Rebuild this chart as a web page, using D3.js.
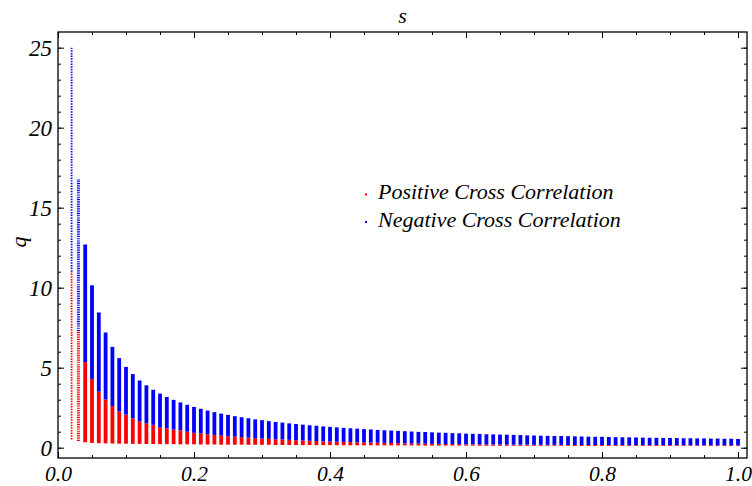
<!DOCTYPE html>
<html>
<head>
<meta charset="utf-8">
<script src="https://cdn.jsdelivr.net/npm/d3@7"></script>
<style>
  body { margin: 0; background: #fff; }
  text { font-family: "Liberation Serif", "DejaVu Serif", serif; font-style: italic; }
</style>
</head>
<body>
<div id="chart"></div>
<script>
// s values (one column of points per value)
const sVals = [
  0.02, 0.03, 0.04, 0.05, 0.06, 0.07, 0.08, 0.09, 0.10,
  0.11, 0.12, 0.13, 0.14, 0.15, 0.16, 0.17, 0.18, 0.19, 0.20,
  0.21, 0.22, 0.23, 0.24, 0.25, 0.26, 0.27, 0.28, 0.29, 0.30,
  0.31, 0.32, 0.33, 0.34, 0.35, 0.36, 0.37, 0.38, 0.39, 0.40,
  0.41, 0.42, 0.43, 0.44, 0.45, 0.46, 0.47, 0.48, 0.49, 0.50,
  0.51, 0.52, 0.53, 0.54, 0.55, 0.56, 0.57, 0.58, 0.59, 0.60,
  0.61, 0.62, 0.63, 0.64, 0.65, 0.66, 0.67, 0.68, 0.69, 0.70,
  0.71, 0.72, 0.73, 0.74, 0.75, 0.76, 0.77, 0.78, 0.79, 0.80,
  0.81, 0.82, 0.83, 0.84, 0.85, 0.86, 0.87, 0.88, 0.89, 0.90,
  0.91, 0.92, 0.93, 0.94, 0.95, 0.96, 0.97, 0.98, 0.99, 1.00
];

// lowest q of each column
const qMin = [
  0.52, 0.42, 0.34, 0.30, 0.28, 0.27, 0.26, 0.25, 0.25,
  0.24, 0.24, 0.23, 0.23, 0.22, 0.22, 0.22, 0.21, 0.21, 0.21,
  0.20, 0.20, 0.20, 0.19, 0.19, 0.19, 0.19, 0.18, 0.18, 0.18,
  0.18, 0.17, 0.17, 0.17, 0.17, 0.16, 0.16, 0.16, 0.16, 0.16,
  0.15, 0.15, 0.15, 0.15, 0.15, 0.15, 0.14, 0.14, 0.14, 0.14,
  0.14, 0.14, 0.14, 0.13, 0.13, 0.13, 0.13, 0.13, 0.13, 0.13,
  0.13, 0.12, 0.12, 0.12, 0.12, 0.12, 0.12, 0.12, 0.12, 0.12,
  0.12, 0.12, 0.12, 0.12, 0.12, 0.11, 0.11, 0.11, 0.11, 0.11,
  0.11, 0.11, 0.11, 0.11, 0.11, 0.11, 0.11, 0.11, 0.11, 0.11,
  0.11, 0.11, 0.11, 0.11, 0.11, 0.10, 0.10, 0.10, 0.10, 0.10
];

// top of the positive cross correlation part (red)
const qSplit = [
  11.0, 7.3, 5.35, 4.3, 3.5, 3.02, 2.6, 2.27, 2.07,
  1.83, 1.64, 1.52, 1.43, 1.27, 1.21, 1.13, 1.08, 1.0, 0.93,
  0.90, 0.84, 0.80, 0.76, 0.72, 0.69, 0.66, 0.63, 0.60, 0.57,
  0.55, 0.53, 0.51, 0.49, 0.47, 0.45, 0.43, 0.42, 0.40, 0.38,
  0.37, 0.36, 0.35, 0.34, 0.33, 0.32, 0.31, 0.30, 0.29, 0.28,
  0.27, 0.26, 0.26, 0.25, 0.24, 0.24, 0.23, 0.22, 0.22, 0.21,
  0.21, 0.21, 0.20, 0.20, 0.20, 0.19, 0.19, 0.19, 0.19, 0.18,
  0.18, 0.18, 0.18, 0.18, 0.17, 0.17, 0.17, 0.17, 0.17, 0.17,
  0.16, 0.16, 0.16, 0.16, 0.16, 0.16, 0.16, 0.16, 0.16, 0.16,
  0.16, 0.16, 0.15, 0.15, 0.15, 0.15, 0.15, 0.15, 0.15, 0.15
];

// top of the negative cross correlation part (blue)
const qMax = [
  25.0, 16.8, 12.7, 10.15, 8.45, 7.2, 6.3, 5.6, 5.05,
  4.6, 4.2, 3.9, 3.62, 3.38, 3.17, 2.99, 2.83, 2.68, 2.55,
  2.43, 2.32, 2.22, 2.13, 2.05, 1.97, 1.9, 1.84, 1.77, 1.72,
  1.66, 1.61, 1.57, 1.52, 1.48, 1.44, 1.4, 1.37, 1.33, 1.3,
  1.27, 1.24, 1.21, 1.19, 1.16, 1.14, 1.11, 1.09, 1.07, 1.05,
  1.03, 1.01, 0.99, 0.98, 0.96, 0.94, 0.93, 0.91, 0.9, 0.88,
  0.87, 0.86, 0.84, 0.83, 0.82, 0.81, 0.8, 0.79, 0.77, 0.76,
  0.75, 0.74, 0.73, 0.73, 0.72, 0.71, 0.7, 0.69, 0.68, 0.68,
  0.67, 0.66, 0.65, 0.65, 0.64, 0.63, 0.62, 0.62, 0.61, 0.61,
  0.6, 0.59, 0.59, 0.58, 0.58, 0.57, 0.57, 0.56, 0.56, 0.55
];

const xTicks = [0, 0.2, 0.4, 0.6, 0.8, 1.0];
const xTickLabels = ["0.0", "0.2", "0.4", "0.6", "0.8", "1.0"];
const yTicks = [0, 5, 10, 15, 20, 25];
const seriesNames = ["Positive Cross Correlation", "Negative Cross Correlation"];
const seriesColors = ["#ff0000", "#0000ff"];

const width = 752, height = 486;
const plotLeft = 58, plotRight = 747, plotTop = 32, plotBottom = 458;

const svg = d3.select("#chart").append("svg")
    .attr("width", width)
    .attr("height", height);

const x = d3.scaleLinear().domain([0, 1.0132]).range([plotLeft, plotRight]);
const y = d3.scaleLinear().domain([-0.644, 25.98]).range([plotBottom, plotTop]);

// columns of points
const nDots = 148;
const cols = svg.append("g");
sVals.forEach((s, i) => {
  const spacing = (y(qMin[i]) - y(qMax[i])) / nDots;
  const w = i === 0 ? 1.8 : (i === 1 ? 3 : 3.8);
  const dash = spacing > 1.5 ? `${(spacing * 0.55).toFixed(2)} ${(spacing * 0.45).toFixed(2)}` : null;
  [[qMin[i], qSplit[i], seriesColors[0]], [qSplit[i], qMax[i], seriesColors[1]]].forEach(([a, b, c]) => {
    cols.append("line")
      .attr("x1", x(s)).attr("x2", x(s))
      .attr("y1", y(a)).attr("y2", y(b))
      .attr("stroke", c)
      .attr("stroke-width", w)
      .attr("stroke-dasharray", dash);
  });
});

// axes with inward ticks
function styleAxis(g, size) {
  g.select(".domain").remove();
  g.selectAll(".tick line").attr("stroke", "#000").attr("stroke-width", 1);
  g.selectAll(".tick text")
    .attr("font-size", size || 23)
    .attr("fill", "#000");
}

const xMinor = d3.range(0, 1.01, 0.05);
const yMinor = d3.range(0, 26, 1);

svg.append("g").attr("transform", `translate(0,${plotBottom})`)
  .call(d3.axisBottom(x).tickValues(xMinor).tickSize(-3).tickFormat(""))
  .call(styleAxis);
svg.append("g").attr("transform", `translate(0,${plotBottom})`)
  .call(d3.axisBottom(x).tickValues(xTicks).tickSize(-6).tickPadding(8)
    .tickFormat((d, i) => xTickLabels[i]))
  .call(styleAxis, 21.5);
svg.append("g").attr("transform", `translate(0,${plotTop})`)
  .call(d3.axisTop(x).tickValues(xMinor).tickSize(-3).tickFormat(""))
  .call(styleAxis);
svg.append("g").attr("transform", `translate(0,${plotTop})`)
  .call(d3.axisTop(x).tickValues(xTicks).tickSize(-6).tickFormat(""))
  .call(styleAxis);

svg.append("g").attr("transform", `translate(${plotLeft},0)`)
  .call(d3.axisLeft(y).tickValues(yMinor).tickSize(-3).tickFormat(""))
  .call(styleAxis);
svg.append("g").attr("transform", `translate(${plotLeft},0)`)
  .call(d3.axisLeft(y).tickValues(yTicks).tickSize(-6).tickPadding(6))
  .call(styleAxis);
svg.append("g").attr("transform", `translate(${plotRight},0)`)
  .call(d3.axisRight(y).tickValues(yMinor).tickSize(-3).tickFormat(""))
  .call(styleAxis);
svg.append("g").attr("transform", `translate(${plotRight},0)`)
  .call(d3.axisRight(y).tickValues(yTicks).tickSize(-6).tickFormat(""))
  .call(styleAxis);

// frame
svg.append("rect")
  .attr("x", plotLeft).attr("y", plotTop)
  .attr("width", plotRight - plotLeft).attr("height", plotBottom - plotTop)
  .attr("fill", "none")
  .attr("stroke", "#000")
  .attr("stroke-width", 1.3);

// axis titles
svg.append("text")
  .attr("x", (plotLeft + plotRight) / 2)
  .attr("y", 23)
  .attr("text-anchor", "middle")
  .attr("font-size", 22)
  .text("s");

svg.append("text")
  .attr("transform", `translate(26,242) rotate(-90)`)
  .attr("text-anchor", "middle")
  .attr("font-size", 22)
  .text("q");

// legend
const legend = svg.append("g");
seriesNames.forEach((name, i) => {
  const ly = 199 + i * 27.5;
  legend.append("rect")
    .attr("x", 365).attr("y", ly - 5.5)
    .attr("width", 2).attr("height", 2)
    .attr("fill", seriesColors[i]);
  legend.append("text")
    .attr("x", 378)
    .attr("y", ly)
    .attr("font-size", 22)
    .attr("fill", "#000")
    .text(name);
});
</script>
</body>
</html>
